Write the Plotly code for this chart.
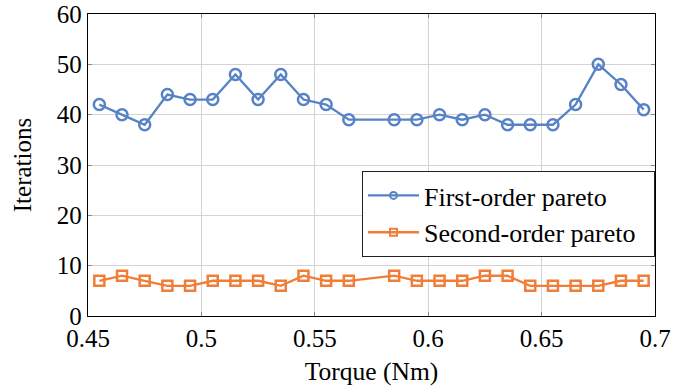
import plotly.graph_objects as go

torque = [0.455, 0.465, 0.475, 0.485, 0.495, 0.505, 0.515, 0.525, 0.535, 0.545, 0.555, 0.565,
          0.585, 0.595, 0.605, 0.615, 0.625, 0.635, 0.645, 0.655, 0.665, 0.675, 0.685, 0.695]
first_order = [42, 40, 38, 44, 43, 43, 48, 43, 48, 43, 42, 39,
               39, 39, 40, 39, 40, 38, 38, 38, 42, 50, 46, 41]
second_order = [7, 8, 7, 6, 6, 7, 7, 7, 6, 8, 7, 7,
                8, 7, 7, 7, 8, 8, 6, 6, 6, 6, 7, 7]
x_ticks = [0.45, 0.5, 0.55, 0.6, 0.65, 0.7]
x_tick_labels = ["0.45", "0.5", "0.55", "0.6", "0.65", "0.7"]
y_ticks = [0, 10, 20, 30, 40, 50, 60]
names = ["First-order pareto", "Second-order pareto"]

blue = "#5882c6"
orange = "#f07e38"
pad = "\u00a0\u00a0"

fig = go.Figure()
fig.add_trace(go.Scatter(x=torque, y=first_order, mode="lines+markers", name=names[0],
                         showlegend=False, legendgroup="a",
                         line=dict(color=blue, width=2.3),
                         marker=dict(symbol="circle-open", size=11, color=blue, line=dict(width=2.5))))
fig.add_trace(go.Scatter(x=torque, y=second_order, mode="lines+markers", name=names[1],
                         showlegend=False, legendgroup="b",
                         line=dict(color=orange, width=2.3),
                         marker=dict(symbol="square-open", size=10, color=orange, line=dict(width=2.5))))
# legend entries with smaller symbols, as in the reference
fig.add_trace(go.Scatter(x=[None], y=[None], mode="lines+markers", name=names[0] + pad, legendgroup="a",
                         line=dict(color=blue, width=2.3),
                         marker=dict(symbol="circle-open", size=7, color=blue, line=dict(width=2))))
fig.add_trace(go.Scatter(x=[None], y=[None], mode="lines+markers", name=names[1] + pad, legendgroup="b",
                         line=dict(color=orange, width=2.3),
                         marker=dict(symbol="square-open", size=7, color=orange, line=dict(width=2))))

font = "Liberation Serif, Times New Roman, serif"
fig.update_layout(
    width=691, height=390,
    margin=dict(l=88, r=36, t=14, b=74, autoexpand=False),
    paper_bgcolor="white", plot_bgcolor="white",
    font=dict(family=font, size=25, color="black"),
    showlegend=True,
    legend=dict(x=1.0, y=0.48, xanchor="right", yanchor="top",
                bordercolor="#222222", borderwidth=1, bgcolor="white",
                font=dict(family=font, size=26), tracegroupgap=0, itemwidth=51),
)
fig.update_xaxes(range=[0.45, 0.7], tickvals=x_ticks, ticktext=x_tick_labels,
                 showgrid=True, gridcolor="#d4d4d4", gridwidth=1,
                 showline=True, linecolor="black", linewidth=1.3, mirror="ticks",
                 ticks="inside", ticklen=4, tickcolor="#888888", automargin=False,
                 ticklabeloverflow="allow",
                 title=dict(text="Torque (Nm)", standoff=10, font=dict(family=font, size=25.5)),
                 zeroline=False, tickfont=dict(family=font, size=25))
fig.update_yaxes(range=[0, 60], tickvals=y_ticks,
                 showgrid=True, gridcolor="#d4d4d4", gridwidth=1,
                 showline=True, linecolor="black", linewidth=1.3, mirror="ticks",
                 ticks="inside", ticklen=4, tickcolor="#888888", automargin=False,
                 ticklabeloverflow="allow",
                 title=dict(text="Iterations", standoff=18, font=dict(family=font, size=25)),
                 zeroline=False, tickfont=dict(family=font, size=25))

fig.write_html("out.html", config={"displayModeBar": False},
               post_script="document.body.style.margin='0';")
